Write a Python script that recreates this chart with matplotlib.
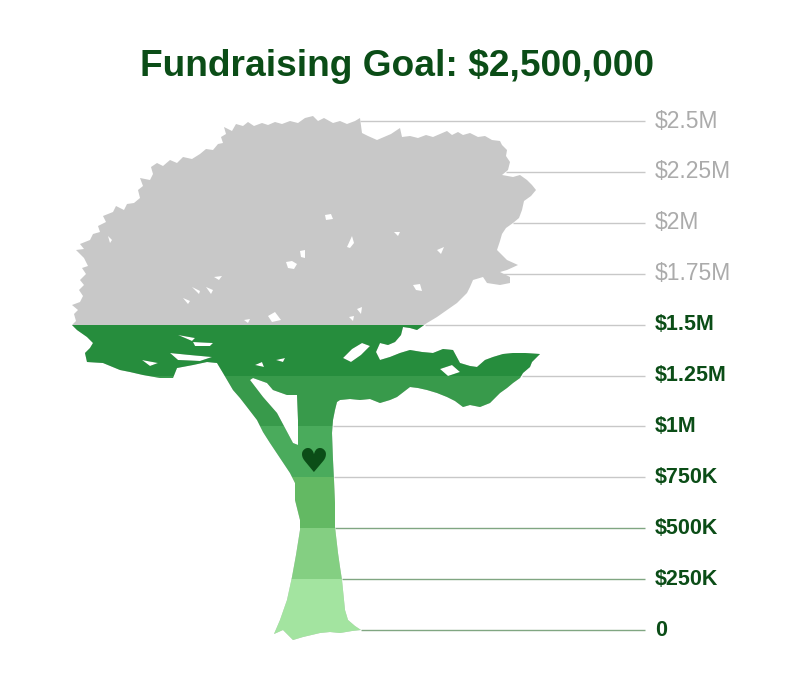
import matplotlib
matplotlib.use("Agg")
import matplotlib.pyplot as plt
from matplotlib.path import Path
from matplotlib.patches import PathPatch, Rectangle
from matplotlib.transforms import Affine2D

# --- data ---
LEVELS = [0, 250000, 500000, 750000, 1000000, 1250000, 1500000, 1750000, 2000000, 2250000, 2500000]
LABELS = ['0', '$250K', '$500K', '$750K', '$1M', '$1.25M', '$1.5M', '$1.75M', '$2M', '$2.25M', '$2.5M']
RAISED = 1500000
GOAL = 2500000
BAND_COLORS = ['#a3e4a0', '#84cf82', '#63b963', '#4aab5c', '#389a4b', '#268d3d']

DARK = '#0b4d17'
GREY_TREE = '#c8c8c8'

# tree artwork, drawn in its own units (x right, y down); base sits at y=630, top of goal at y=121
ART_BASE, ART_TOP = 630.0, 121.0
TREE_OUTLINE = [
    (72, 325), (76, 321), (74, 314), (78, 310), (72, 305), (80, 302), (83, 296), (79, 290), (84, 285),
    (80, 280), (86, 274), (82, 268), (88, 266), (84, 258), (76, 250), (84, 249), (80, 244), (90, 240),
    (93, 234), (100, 232), (98, 226), (106, 222), (103, 216), (113, 212), (116, 206), (124, 210),
    (127, 204), (134, 203), (140, 198), (138, 190), (143, 186), (140, 178), (150, 180), (153, 174),
    (151, 167), (157, 163), (163, 166), (170, 160), (177, 163), (183, 157), (192, 159), (200, 154),
    (206, 149), (213, 150), (218, 144), (223, 143), (221, 137), (226, 134), (224, 127), (232, 131),
    (236, 124), (243, 126), (248, 122), (254, 126), (262, 123), (268, 125), (275, 122), (282, 124),
    (290, 121), (298, 123), (305, 118), (313, 116), (318, 121), (324, 118), (333, 123), (340, 121),
    (347, 124), (355, 121), (360, 118), (362, 133), (368, 136), (377, 140), (384, 137), (391, 134),
    (400, 128), (402, 137), (410, 136), (418, 138), (426, 135), (433, 137), (440, 134), (447, 131),
    (452, 135), (458, 132), (463, 135), (470, 133), (478, 137), (485, 136), (492, 140), (500, 141),
    (502, 145), (507, 150), (506, 156), (510, 162), (508, 170), (502, 175), (513, 177), (520, 175),
    (527, 180), (532, 185), (536, 190), (531, 196), (524, 201), (522, 210), (519, 218), (513, 223),
    (506, 228), (502, 234), (500, 241), (497, 250), (503, 256), (507, 260), (518, 265), (507, 270),
    (500, 272), (510, 277), (510, 283), (500, 285), (487, 283), (483, 277), (473, 280), (470, 287),
    (467, 293), (457, 303), (447, 310), (437, 317), (427, 323), (417, 330), (410, 328), (403, 327),
    (401, 335), (395, 342), (388, 345), (380, 343), (376, 352), (380, 360), (390, 357), (400, 353),
    (410, 350), (422, 352), (433, 353), (443, 349), (453, 350), (460, 363), (470, 366), (477, 367),
    (485, 360), (493, 357), (503, 354), (513, 353), (525, 353), (540, 354), (532, 362), (530, 367),
    (523, 373), (520, 378), (513, 383), (507, 388), (500, 393), (490, 403), (480, 407), (470, 405),
    (463, 407), (455, 401), (447, 397), (437, 393), (427, 390), (418, 388), (410, 387), (397, 397),
    (390, 400), (380, 403), (370, 399), (360, 400), (350, 399), (340, 400), (337, 402), (335, 410),
    (333, 420), (332, 433), (333, 460), (334, 480), (335, 503), (335, 527), (338, 553), (340, 567),
    (342, 580), (345, 610), (348, 620), (355, 626), (361, 630), (352, 631), (340, 633), (330, 632),
    (320, 633), (303, 637), (293, 640), (287, 634), (283, 630), (274, 634), (280, 620), (287, 600),
    (292, 577), (296, 555), (300, 530), (300, 520), (295, 500), (295, 483), (290, 473), (280, 458),
    (270, 443), (263, 432), (257, 420), (247, 407), (240, 398), (233, 390), (223, 373), (217, 363),
    (207, 362), (193, 365), (177, 368), (173, 378), (160, 378), (143, 375), (130, 372), (120, 370),
    (103, 363), (87, 362), (85, 353), (90, 348), (93, 343), (87, 337), (77, 330),
]
TREE_HOLES = [
    # gap between the leaning branch and the trunk
    [(253, 378), (267, 383), (273, 390), (287, 395), (297, 395), (298, 420), (298, 445),
     (293, 443), (277, 413), (263, 397), (250, 380)],
    # openings in the canopy
    [(325, 215), (331, 214), (333, 219), (326, 220)],
    [(347, 247), (352, 236), (354, 243), (350, 248)],
    [(300, 251), (305, 250), (305, 258), (301, 257)],
    [(286, 262), (292, 261), (297, 264), (294, 269), (288, 268)],
    [(192, 287), (200, 291), (199, 294)],
    [(206, 287), (213, 290), (211, 294)],
    [(214, 277), (222, 276), (219, 280)],
    [(183, 298), (190, 301), (188, 304)],
    [(394, 232), (400, 232), (398, 236)],
    [(437, 250), (444, 247), (441, 254)],
    [(413, 285), (420, 284), (422, 291), (416, 290)],
    [(357, 309), (362, 307), (361, 314)],
    [(349, 317), (354, 316), (353, 321)],
    [(244, 320), (250, 319), (248, 323)],
    [(268, 316), (275, 312), (281, 320), (272, 322)],
    [(108, 236), (112, 240), (110, 243)],
    # streaks in the lower branches
    [(170, 353), (190, 355), (212, 357), (200, 361), (178, 360)],
    [(193, 342), (213, 343), (210, 346), (195, 346)],
    [(178, 335), (195, 338), (192, 341)],
    [(142, 360), (158, 363), (150, 366)],
    [(343, 358), (352, 349), (362, 343), (370, 346), (361, 355), (351, 362)],
    [(440, 369), (452, 365), (460, 372), (448, 376)],
    [(255, 365), (262, 362), (264, 367)],
    [(276, 360), (285, 358), (283, 362)],
]


def signed_area(poly):
    return 0.5 * sum(x0 * y1 - x1 * y0 for (x0, y0), (x1, y1) in zip(poly, poly[1:] + poly[:1]))


def ring(poly, positive):
    pts = list(poly)
    if (signed_area(pts) > 0) != positive:
        pts = pts[::-1]
    return pts


def build_tree_path():
    verts, codes = [], []
    rings = [ring(TREE_OUTLINE, True)] + [ring(h, False) for h in TREE_HOLES]
    for r in rings:
        verts += r + [r[0]]
        codes += [Path.MOVETO] + [Path.LINETO] * (len(r) - 1) + [Path.CLOSEPOLY]
    return Path(verts, codes)


def right_edge(poly, y):
    xs = []
    for (x0, y0), (x1, y1) in zip(poly, poly[1:] + poly[:1]):
        if y0 != y1 and (y0 - y) * (y1 - y) <= 0:
            xs.append(x0 + (y - y0) * (x1 - x0) / (y1 - y0))
    return max(xs)


fig = plt.figure(figsize=(7.94, 6.95), dpi=100)
plt.rcParams['font.family'] = ['Liberation Sans', 'DejaVu Sans']
ax = fig.add_axes([0, 0, 1, 1])

per_px = GOAL / (ART_BASE - ART_TOP)
ax.set_xlim(0, 794)
ax.set_ylim((ART_BASE - 695) * per_px, ART_BASE * per_px)
ax.axis('off')
y_floor = ax.get_ylim()[0]

# artwork units -> data units (dollars on y)
art = Affine2D().scale(1, -per_px).translate(0, ART_BASE * per_px) + ax.transData

tree = PathPatch(build_tree_path(), transform=art, facecolor=GREY_TREE, edgecolor='none', zorder=2)
ax.add_patch(tree)

# green bands up to the amount raised (the lowest one also covers the roots)
for lo, hi, col in zip(LEVELS[:-1], LEVELS[1:], BAND_COLORS):
    if hi > RAISED:
        break
    lo = lo if lo > LEVELS[0] else y_floor
    band = Rectangle((0, lo), 794, hi - lo, facecolor=col, edgecolor='none', zorder=3)
    ax.add_patch(band)
    band.set_clip_path(tree)

# heart on the trunk
ax.text(313, (ART_BASE - 462) * per_px, '\u2665', family='DejaVu Sans', fontsize=24,
        color=DARK, ha='center', va='center', zorder=5)

# level lines and labels
for lev, lab in zip(LEVELS, LABELS):
    y_art = ART_BASE - lev / per_px
    x0 = right_edge(TREE_OUTLINE, y_art)
    lc = '#80a682' if lev <= 500000 else '#c8c8c8'
    ax.plot([x0, 645], [lev, lev], color=lc, linewidth=1, zorder=1, solid_capstyle='butt')
    if lev <= RAISED:
        ax.text(655, lev, lab, fontsize=15.5, fontweight='bold', color=DARK, ha='left', va='center')
    else:
        ax.text(655, lev, lab, fontsize=16.5, color='#ababab', ha='left', va='center')

fig.text(0.5, 1 - 66 / 695, 'Fundraising Goal: $2,500,000', fontsize=26.7, fontweight='bold',
         color=DARK, ha='center', va='center')

fig.savefig('out.png', dpi=100, facecolor='white')
